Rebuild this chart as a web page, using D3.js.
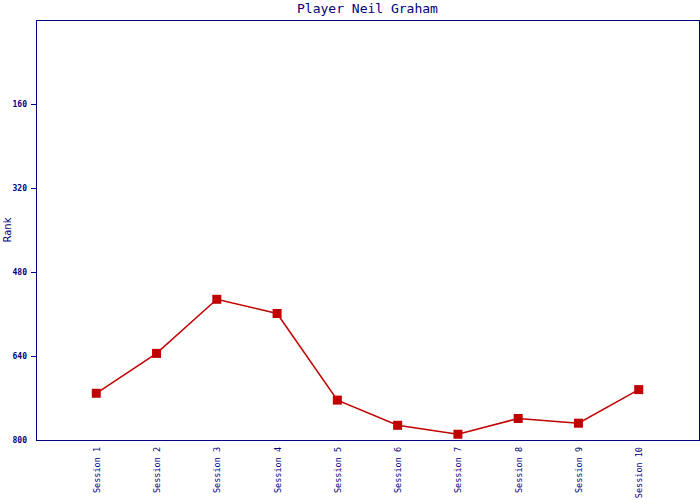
<!DOCTYPE html>
<html><head><meta charset="utf-8">
<script src="https://cdn.jsdelivr.net/npm/d3@7"></script>
<style>body{margin:0;background:#fff}</style>
</head><body>
<svg id="c" width="700" height="500"></svg>
<script>
const categories = ["Session 1","Session 2","Session 3","Session 4","Session 5","Session 6","Session 7","Session 8","Session 9","Session 10"];
const ranks = [711, 635, 532, 559, 724, 772, 789, 759, 768, 704];
const yTicks = [160, 320, 480, 640, 800];
const title = "Player Neil Graham";
const yTitle = "Rank";

const svg = d3.select("#c");
const m = {l:36, r:1, t:20, b:60};
const W = 700, H = 500;
const iw = W - m.l - m.r, ih = H - m.t - m.b;
const navy = "#000080", red = "#c00000";
const mono = "'DejaVu Sans Mono', 'Liberation Mono', monospace";

const x = d3.scaleLinear().domain([0, categories.length + 1]).range([m.l, m.l + iw]);
const y = d3.scaleLinear().domain([0, 800]).range([m.t, m.t + ih]);

svg.append("rect").attr("x", m.l).attr("y", m.t).attr("width", iw).attr("height", ih)
  .attr("fill", "none").attr("stroke", navy).attr("stroke-width", 1).attr("shape-rendering","crispEdges");

const ya = d3.axisLeft(y).tickValues(yTicks).tickSize(5).tickSizeOuter(0).tickPadding(4);
const gy = svg.append("g").attr("transform", `translate(${m.l},0)`).call(ya);
gy.select(".domain").attr("stroke", navy).attr("shape-rendering","crispEdges");
gy.selectAll(".tick line").attr("stroke", navy).attr("shape-rendering","crispEdges")
  .attr("display", d => d === 800 ? "none" : null);
gy.selectAll(".tick text").attr("fill", navy).attr("font-family", mono).attr("font-size", 8).attr("font-weight","bold");

const xa = d3.axisBottom(x).tickValues(categories.map((d,i)=>i+1)).tickFormat((d)=>categories[d-1]).tickSize(0);
const gx = svg.append("g").attr("transform", `translate(0,${m.t+ih})`).call(xa);
gx.select(".domain").attr("stroke", navy).attr("shape-rendering","crispEdges");
gx.selectAll(".tick text")
  .attr("fill", navy).attr("font-family", mono).attr("font-size", 8.5)
  .attr("transform", "rotate(-90)").attr("text-anchor", "end")
  .attr("x", -7).attr("y", 0).attr("dy", "0.35em");

svg.append("text").attr("x", m.l + iw/2).attr("y", 13).attr("text-anchor", "middle")
  .attr("fill", navy).attr("font-family", mono).attr("font-size", 13).text(title);

svg.append("text").attr("transform", `translate(11,${m.t+ih/2}) rotate(-90)`).attr("text-anchor","middle")
  .attr("fill", navy).attr("font-family", "'DejaVu Sans', sans-serif").attr("font-size", 10).text(yTitle);

const line = d3.line().x((d,i)=>x(i+1)).y(d=>y(d));
svg.append("path").datum(ranks).attr("d", line).attr("fill","none").attr("stroke", red).attr("stroke-width", 1.5);

svg.selectAll(".pt").data(ranks).enter().append("rect").attr("class","pt")
  .attr("x", (d,i)=>x(i+1)-4.5).attr("y", d=>y(d)-4.5).attr("width", 9).attr("height", 9).attr("fill", red);
</script>
</body></html>
